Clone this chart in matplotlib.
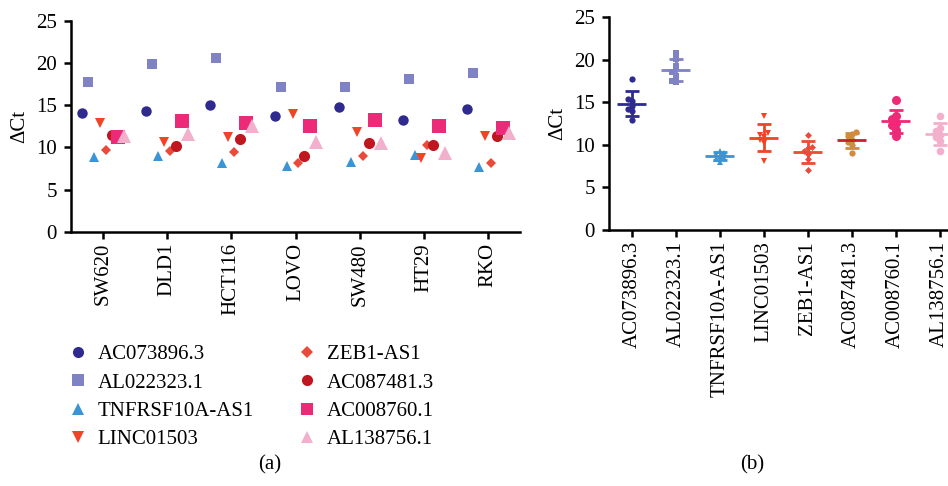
import numpy as np
import matplotlib.pyplot as plt
from matplotlib.lines import Line2D

# cell lines and genes
cellLines = ['SW620', 'DLD1', 'HCT116', 'LOVO', 'SW480', 'HT29', 'RKO']
genes = ['AC073896.3', 'AL022323.1', 'TNFRSF10A-AS1', 'LINC01503',
         'ZEB1-AS1', 'AC087481.3', 'AC008760.1', 'AL138756.1']

# panel (a): delta Ct of each gene in each cell line (order = cellLines)
ac073896 = [14.1, 14.3, 15.0, 13.7, 14.8, 13.3, 14.5]
al022323 = [17.8, 19.9, 20.6, 17.2, 17.2, 18.1, 18.85]
tnfrsf10a = [8.9, 9.0, 8.2, 7.85, 8.3, 9.1, 7.65]
linc01503 = [12.9, 10.6, 11.2, 14.0, 11.8, 8.8, 11.4]
zeb1 = [9.7, 9.6, 9.5, 8.2, 8.95, 10.3, 8.2]
ac087481 = [11.5, 10.2, 11.0, 9.0, 10.5, 10.3, 11.3]
ac008760 = [11.2, 13.1, 12.9, 12.6, 13.3, 12.6, 12.3]
al138756 = [11.3, 11.6, 12.5, 10.7, 10.5, 9.3, 11.7]
panelA = [ac073896, al022323, tnfrsf10a, linc01503, zeb1, ac087481, ac008760, al138756]

# panel (b): replicate values of each gene
bAC073896 = [17.7, 15.4, 15.2, 14.6, 14.2, 14.0, 12.9]
bAL022323 = [20.8, 20.1, 19.3, 18.6, 18.1, 17.5, 17.4]
bTNFRSF10A = [9.3, 9.1, 8.9, 8.7, 8.5, 8.3, 8.0]
bLINC01503 = [13.4, 11.4, 11.2, 10.9, 10.6, 10.2, 8.1]
bZEB1 = [11.2, 9.8, 9.6, 9.3, 8.9, 8.3, 7.1]
bAC087481 = [11.5, 11.3, 11.0, 10.6, 10.4, 10.0, 9.0]
bAC008760 = [15.3, 13.4, 13.0, 12.6, 12.3, 11.8, 11.1]
bAL138756 = [13.4, 12.0, 11.6, 11.2, 10.9, 10.5, 9.3]
panelB = [bAC073896, bAL022323, bTNFRSF10A, bLINC01503, bZEB1, bAC087481, bAC008760, bAL138756]

# styles
colors = ['#2E2A8E', '#7F83C3', '#3A95D6', '#EF4426', '#EA4A3A', '#C0161F', '#EC2A78', '#F3B0CC']
markers = ['o', 's', '^', 'v', 'D', 'o', 's', '^']
sizesA = [7.5, 7, 7, 7.5, 5, 8, 9.5, 9.5]
colorsB = ['#2E2A8E', '#7F83C3', '#3A95D6', '#EF4426', '#EA4A3A', '#D28A3E', '#EC2A78', '#F3B0CC']
meanColorsB = ['#2E2A8E', '#7F83C3', '#3A95D6', '#EF4426', '#EA4A3A', '#C8202A', '#EC2A78', '#F3B0CC']
markersB = ['o', 's', '^', 'v', 'D', 'o', 'o', 'o']
sizesB = [4.5, 4.5, 4, 4.5, 3.5, 4.5, 6.5, 5.5]

plt.rcParams['font.family'] = ['Liberation Serif', 'DejaVu Serif']
FS = 15


# simple axis styling like prism
def styleAxis(ax):
    for s in ['top', 'right']:
        ax.spines[s].set_visible(False)
    for s in ['left', 'bottom']:
        ax.spines[s].set_linewidth(1.8)
    ax.tick_params(direction='out', length=5, width=1.8, labelsize=FS)
    ax.tick_params(axis='y', pad=5)
    ax.tick_params(axis='x', pad=3)
    ax.set_ylim(0, 25)
    ax.set_yticks([0, 5, 10, 15, 20, 25])
    ax.set_ylabel('ΔCt', fontsize=FS, labelpad=5)


# spread points of one column horizontally so they do not overlap
def swarmOffsets(vals, step=0.09, minDy=0.55):
    order = np.argsort(vals)
    placed = []
    offs = np.zeros(len(vals))
    for i in order:
        for c in [0, -step, step, -2 * step, 2 * step]:
            ok = True
            for (o, v) in placed:
                if abs(o - c) < step * 0.9 and abs(v - vals[i]) < minDy:
                    ok = False
                    break
            if ok:
                offs[i] = c
                placed.append((c, vals[i]))
                break
    return offs


fig = plt.figure(figsize=(9.48, 4.86), dpi=100)

# ---- panel (a)
axA = fig.add_axes([71 / 948, 1 - 232 / 486, 449 / 948, 211.3 / 486])
x = np.arange(len(cellLines))
for k, (vals, c, m, ms) in enumerate(zip(panelA, colors, markers, sizesA)):
    off = (k - 3.5) * 0.093
    axA.plot(x + off, vals, linestyle='none', marker=m, color=c, markersize=ms,
             markeredgewidth=0)
styleAxis(axA)
axA.set_xlim(-0.5, 6.5)
axA.set_xticks(x)
axA.set_xticklabels(cellLines, rotation=90, fontsize=FS)

# legend below panel (a)
handles = [Line2D([], [], linestyle='none', marker=m, color=c, markersize=8 if m != 'D' else 6,
                  markeredgewidth=0) for c, m in zip(colors, markers)]
fig.legend(handles, genes, loc='upper left', bbox_to_anchor=(51 / 948, 1 - 330 / 486), ncol=2,
           frameon=False, fontsize=FS, handletextpad=0.35, columnspacing=1.95,
           labelspacing=0.42, handlelength=1.2, borderpad=0.2)

# ---- panel (b)
axB = fig.add_axes([609 / 948, 1 - 230 / 486, 339 / 948, 212.7 / 486])
xb = np.arange(len(genes))
for k, vals in enumerate(panelB):
    vals = np.array(vals)
    mean = vals.mean()
    sd = vals.std(ddof=1)
    axB.plot(k + swarmOffsets(vals), vals, linestyle='none', marker=markersB[k],
             color=colorsB[k], markersize=sizesB[k], markeredgewidth=0)
    axB.errorbar(k, mean, yerr=sd, color=colorsB[k], capsize=5, elinewidth=2,
                 capthick=2, fmt='none')
    axB.hlines(mean, k - 0.33, k + 0.33, color=meanColorsB[k], linewidth=2)
styleAxis(axB)
axB.set_xlim(-0.52, 7.19)
axB.set_xticks(xb)
axB.set_xticklabels(genes, rotation=90, fontsize=FS)

fig.text(270 / 948, 1 - 465 / 486, '(a)', ha='center', va='center', fontsize=FS)
fig.text(752 / 948, 1 - 465 / 486, '(b)', ha='center', va='center', fontsize=FS)

fig.savefig('out.png', dpi=100)
